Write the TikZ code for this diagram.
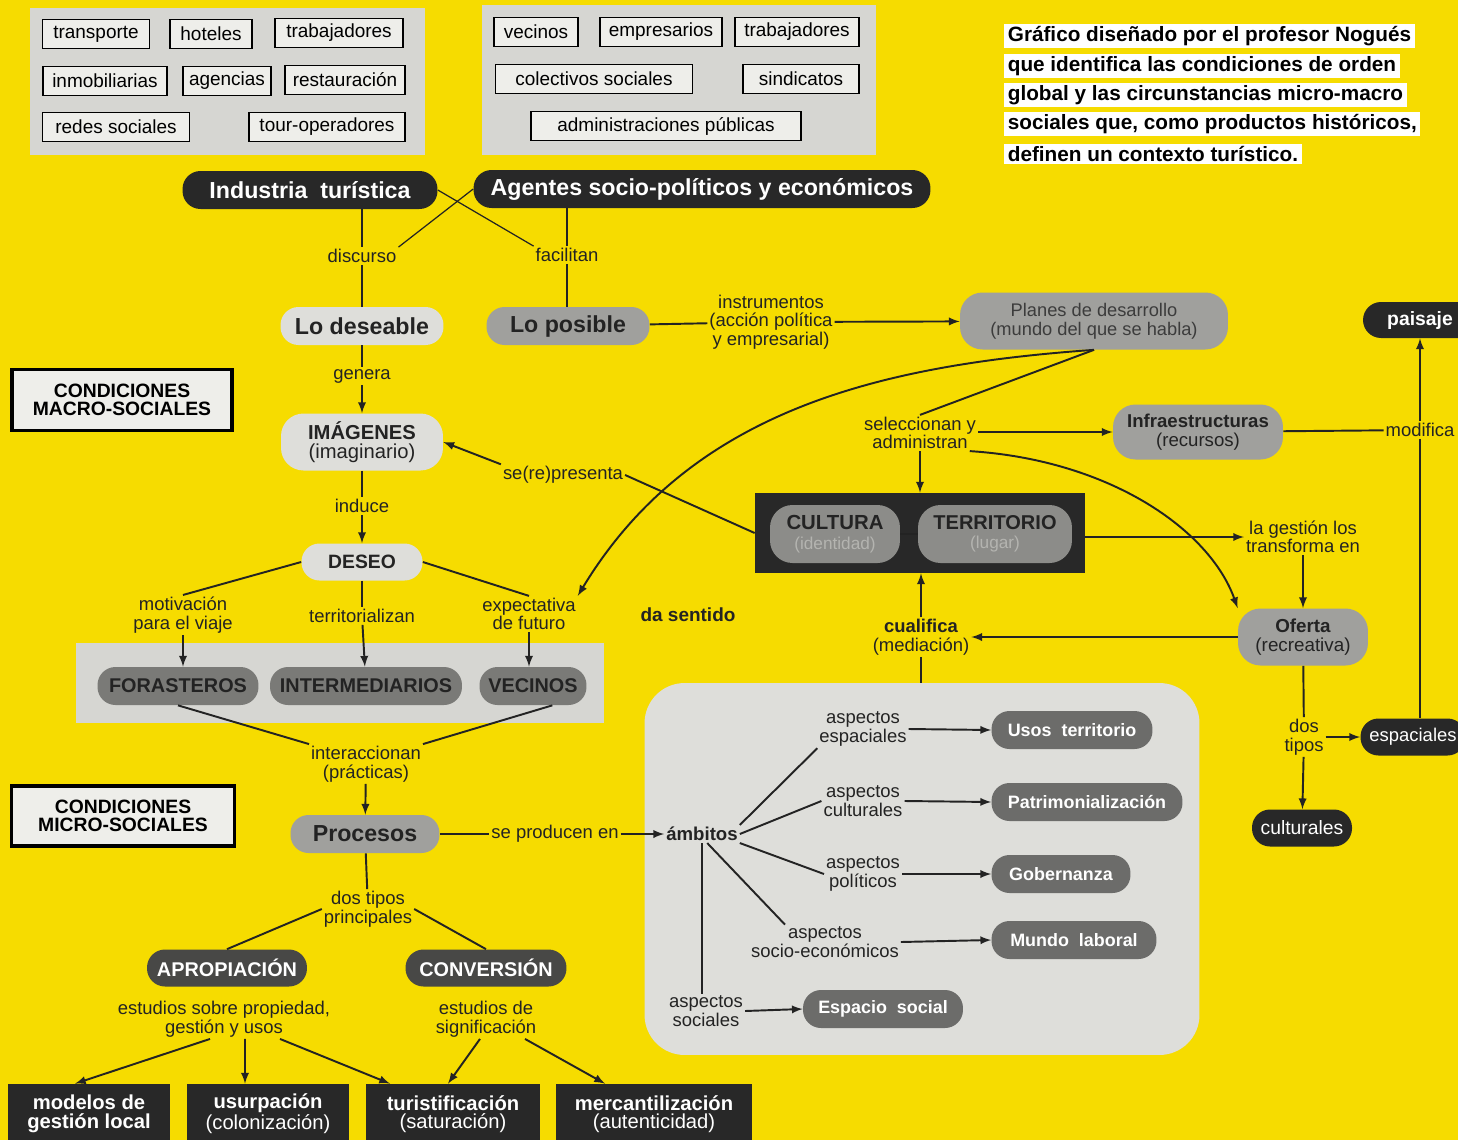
\documentclass[tikz,border=0pt]{standalone}
\usepackage{fontspec}
\setmainfont{Liberation Sans}
\usetikzlibrary{arrows,positioning,calc}

\definecolor{amarillo}{RGB}{246,220,0}
\definecolor{panelgris}{RGB}{214,214,210}
\definecolor{tagfondo}{RGB}{238,238,234}
\definecolor{claro}{RGB}{222,222,218}
\definecolor{medio}{RGB}{160,160,157}
\definecolor{actor}{RGB}{122,122,119}
\definecolor{nucleo}{RGB}{140,140,137}
\definecolor{ambito}{RGB}{108,108,106}
\definecolor{proceso}{RGB}{72,72,70}
\definecolor{oscuro}{RGB}{40,40,40}
\definecolor{tinta}{RGB}{35,35,35}
\definecolor{gristexto}{RGB}{60,60,60}
\definecolor{palido}{RGB}{180,180,176}

\begin{document}
\begin{tikzpicture}[x=0.02cm, y=-0.02cm, >=latex]
\tikzstyle{tag}=[draw, fill=tagfondo, line width=0.7pt, inner sep=0pt,
                 minimum height=0.58cm, font=\fontsize{10.8}{12}\selectfont]
\tikzstyle{lbl}=[inner sep=1pt, align=center, text=tinta,
                 font=\fontsize{10.5}{10.5}\selectfont]
\tikzstyle{linea}=[line width=1.1pt, draw=tinta]
\tikzstyle{fina}=[line width=0.7pt, draw=tinta]
\tikzstyle{pill}=[rectangle, rounded corners=0.36cm, inner sep=0pt,
                  minimum height=0.76cm, align=center]
\tikzstyle{pill2}=[pill, rounded corners=0.45cm, minimum height=1.14cm]
\tikzstyle{darkpill}=[pill, fill=oscuro, text=white,
                      font=\bfseries\fontsize{13.2}{15}\selectfont]
\tikzstyle{bigpill}=[pill, text=tinta, font=\bfseries\fontsize{13.2}{15}\selectfont]
\tikzstyle{actorpill}=[pill, fill=actor, text=tinta,
                       font=\bfseries\fontsize{11.3}{13}\selectfont]
\tikzstyle{ambpill}=[pill, fill=ambito, text=white,
                     font=\bfseries\fontsize{10.2}{12}\selectfont]
\tikzstyle{procpill}=[pill, minimum height=0.74cm, fill=proceso, text=white,
                      font=\bfseries\fontsize{11.3}{13}\selectfont]
\tikzstyle{endpill}=[pill, minimum height=0.74cm, fill=oscuro, text=white,
                     font=\fontsize{11}{13}\selectfont]
\tikzstyle{condbox}=[draw=black, line width=1.8pt, fill=tagfondo, align=center,
                     inner sep=0pt, font=\bfseries\fontsize{11}{10.2}\selectfont]
\tikzstyle{result}=[fill=oscuro, text=white, align=center, inner sep=0pt,
                    minimum height=1.2cm, font=\fontsize{11.5}{10.5}\selectfont]
\tikzstyle{nota}=[fill=white, anchor=west, inner xsep=2pt, inner ysep=1.5pt,
                  text=black, font=\bfseries\fontsize{11.8}{14}\selectfont]

\useasboundingbox (0,0) rectangle (1458,1140);
\clip (0,0) rectangle (1458,1140);
\fill[amarillo] (0,0) rectangle (1458,1140);
\fill[panelgris] (30,8) rectangle (425,155);
\fill[panelgris] (482,5) rectangle (876,155);
\fill[panelgris] (76,643) rectangle (604,723);

\node[tag, minimum width=2.14cm] (transp) at (96,34) {transporte};
\node[tag, minimum width=1.64cm] (hotel) at (211,34) {hoteles};
\node[tag, minimum width=2.56cm] (trab1) at (339,33) {trabajadores};
\node[tag, minimum width=2.48cm] (inmob) at (105,81) {inmobiliarias};
\node[tag, minimum width=1.76cm] (agenc) at (227,81) {agencias};
\node[tag, minimum width=2.4cm] (resta) at (345,80) {restauración};
\node[tag, minimum width=2.94cm] (redes) at (116,127) {redes sociales};
\node[tag, minimum width=3.12cm] (touro) at (327,127) {tour-operadores};

\node[tag, minimum width=1.68cm] (vecin) at (536,32) {vecinos};
\node[tag, minimum width=2.44cm] (empre) at (661,32) {empresarios};
\node[tag, minimum width=2.48cm] (trab2) at (797,32) {trabajadores};
\node[tag, minimum width=3.94cm] (colec) at (594,79) {colectivos sociales};
\node[tag, minimum width=2.32cm] (sindi) at (801,79) {sindicatos};
\node[tag, minimum width=5.4cm] (admin) at (666,126) {administraciones públicas};

\node[nota] (nota1) at (1004,36) {Gráfico diseñado por el profesor Nogués};
\node[nota] (nota2) at (1004,66) {que identifica las condiciones de orden};
\node[nota] (nota3) at (1004,95) {global y las circunstancias micro-macro};
\node[nota] (nota4) at (1004,124) {sociales que, como productos históricos,};
\node[nota] (nota5) at (1004,154) {definen un contexto turístico.};

\node[darkpill, minimum width=5.1cm] (indus) at (310,190) {Industria\ \ turística};
\node[darkpill, minimum width=9.14cm] (agent) at (702,189) {Agentes socio-políticos y económicos};
\node[lbl] (discur) at (362,256) {discurso};
\node[lbl] (facil) at (567,255) {facilitan};
\node[bigpill, fill=claro, minimum width=3.26cm] (deseable) at (362,326) {Lo deseable};
\node[bigpill, fill=medio, minimum width=3.26cm] (posible) at (568,326) {Lo posible};
\node[lbl] (instr) at (771,322) {instrumentos\\(acción política\\y empresarial)};
\node[pill2, fill=medio, minimum width=5.36cm, text=gristexto,
      font=\fontsize{10.4}{10.8}\selectfont] (planes) at (1094,321)
      {Planes de desarrollo\\(mundo del que se habla)};
\node[darkpill, minimum width=2.28cm, minimum height=0.72cm,
      font=\bfseries\fontsize{11}{13}\selectfont] (paisaje) at (1420,320) {paisaje};

\node[condbox, minimum width=4.4cm, minimum height=1.22cm] (macro) at (122,400)
      {CONDICIONES\\MACRO-SOCIALES};
\node[lbl] (genera) at (362,376) {genera};
\node[pill2, fill=claro, minimum width=3.24cm, text=tinta,
      font=\fontsize{11.5}{10.8}\selectfont] (imag) at (362,442)
      {\textbf{IMÁGENES}\\(imaginario)};
\node[lbl] (induce) at (362,506) {induce};
\node[bigpill, fill=claro, minimum width=2.42cm, minimum height=0.74cm,
      font=\bfseries\fontsize{11}{13}\selectfont] (deseo) at (362,562) {DESEO};
\node[lbl] (repres) at (563,475) {se(re)presenta};

\node[lbl] (selec) at (920,433) {seleccionan y\\administran};
\node[pill2, fill=medio, minimum width=3.4cm, minimum height=1.1cm, text=tinta,
      font=\fontsize{10.6}{10.8}\selectfont] (infra) at (1198,432)
      {\textbf{Infraestructuras}\\(recursos)};
\node[lbl] (modif) at (1420,430) {modifica};

\node[fill=oscuro, minimum width=6.6cm, minimum height=1.6cm, inner sep=0pt] (ctbox) at (920,533) {};
\node[pill2, fill=nucleo, minimum width=2.6cm, minimum height=1.16cm, text=tinta,
      font=\fontsize{9.8}{11}\selectfont] (cult) at (835,534)
      {{\bfseries\fontsize{11.6}{11}\selectfont CULTURA}\\\textcolor{palido}{(identidad)}};
\node[pill2, fill=nucleo, minimum width=3.08cm, minimum height=1.16cm, text=tinta,
      font=\fontsize{9.8}{11}\selectfont] (terr) at (995,534)
      {{\bfseries\fontsize{11.4}{11}\selectfont TERRITORIO}\\\textcolor{palido}{(lugar)}};
\node[lbl] (transf) at (1303,537) {la gestión los\\transforma en};
\node[pill2, fill=medio, minimum width=2.6cm, text=tinta,
      font=\fontsize{10.7}{10.8}\selectfont] (oferta) at (1303,637)
      {\textbf{Oferta}\\(recreativa)};
\node[lbl] (cualif) at (921,637) {\textbf{cualifica}\\(mediación)};
\node[lbl, font=\bfseries\fontsize{10.8}{12}\selectfont] (dasent) at (688,615) {da sentido};
\node[lbl] (dostipos) at (1304,737) {dos\\tipos};
\node[endpill, minimum width=2.1cm, font=\fontsize{10.5}{13}\selectfont] (espac) at (1413,737) {espaciales};
\node[endpill, minimum width=2cm] (cultur) at (1302,828) {culturales};

\node[lbl] (motiv) at (183,615) {motivación\\para el viaje};
\node[lbl] (territ) at (362,616) {territorializan};
\node[lbl] (expect) at (529,614) {expectativa\\de futuro};
\node[actorpill, minimum width=3.22cm] (foraster) at (178,686) {FORASTEROS};
\node[actorpill, minimum width=3.84cm] (interm) at (366,686) {INTERMEDIARIOS};
\node[actorpill, minimum width=2.14cm] (vecinos) at (533,686) {VECINOS};
\node[lbl] (interacc) at (366,764) {interaccionan\\(prácticas)};
\node[condbox, minimum width=4.46cm, minimum height=1.2cm] (micro) at (123,816)
      {CONDICIONES\\MICRO-SOCIALES};
\node[bigpill, fill=medio, minimum width=2.98cm] (procesos) at (365,834) {Procesos};
\node[lbl] (seprod) at (555,834) {se producen en};
\node[lbl] (dostp) at (368,909) {dos tipos\\principales};
\node[procpill, minimum width=3.2cm] (apro) at (227,968) {APROPIACIÓN};
\node[procpill, minimum width=3.22cm] (conv) at (486,968) {CONVERSIÓN};
\node[lbl] (estprop) at (224,1019) {estudios sobre propiedad,\\gestión y usos};
\node[lbl] (estsig) at (486,1019) {estudios de\\significación};
\node[result, minimum width=3.24cm, font=\bfseries\fontsize{11.5}{10.5}\selectfont] (modelos) at (89,1114)
      {modelos de\\gestión local};
\node[result, minimum width=3.26cm] (usurp) at (268,1114) {\textbf{usurpación}\\(colonización)};
\node[result, minimum width=3.48cm] (turist) at (453,1114) {\textbf{turistificación}\\(saturación)};
\node[result, minimum width=3.92cm] (mercan) at (654,1114) {\textbf{mercantilización}\\(autenticidad)};

\node[fill=claro, rounded corners=0.8cm, minimum width=11.1cm, minimum height=7.44cm] (ambbox) at (922,869) {};
\node[lbl, font=\bfseries\fontsize{10.6}{12}\selectfont] (ambitos) at (702,834) {ámbitos};
\node[lbl] (aesp) at (863,729) {aspectos\\espaciales};
\node[lbl] (acul) at (863,801) {aspectos\\culturales};
\node[lbl] (apol) at (863,874) {aspectos\\políticos};
\node[lbl] (asoc) at (825,942) {aspectos\\socio-económicos};
\node[lbl] (asocl) at (706,1011) {aspectos\\sociales};
\node[ambpill, minimum width=3.22cm] (usos) at (1072,730) {Usos\ \ territorio};
\node[ambpill, minimum width=3.82cm] (patri) at (1087,802) {Patrimonialización};
\node[ambpill, minimum width=2.78cm] (gober) at (1061,874) {Gobernanza};
\node[ambpill, minimum width=3.3cm] (mundo) at (1074,940) {Mundo\ \ laboral};
\node[ambpill, minimum width=3.2cm] (espsoc) at (883,1009) {Espacio\ \ social};

\draw[fina] (indus.east) -- (facil.north west);
\draw[fina] (agent.west) -- (discur.north east);
\draw[linea] (discur |- indus.south) -- (discur);
\draw[linea] (discur) -- (deseable);
\draw[linea] (facil |- agent.south) -- (facil);
\draw[linea] (facil) -- (facil |- posible.north);
\draw[linea] (posible) -- (instr);
\draw[linea, ->] (instr) -- (planes);
\draw[linea] (deseable) -- (genera);
\draw[linea, ->] (genera) -- (imag);
\draw[linea] (imag) -- (induce);
\draw[linea, ->] (induce) -- (deseo);
\draw[linea] (ctbox.west) -- (repres.east);
\draw[linea, ->] (repres.north west) -- (imag.east);
\draw[linea] (planes.south) -- (selec.north);
\draw[linea, ->] (planes.south) .. controls (880,365) and (690,410) .. (expect.north east);
\draw[linea, ->] (selec.east |- infra) -- (infra);
\draw[linea] (infra) -- (modif);
\draw[linea, ->] (modif) -- (paisaje);
\draw[linea] (modif) -- (modif |- espac.north);
\draw[linea, ->] (selec) -- (selec |- ctbox.north);
\draw[linea] (cult) -- (terr);
\draw[linea, ->] (ctbox.east |- transf) -- (transf);
\draw[linea, ->] (transf) -- (oferta);
\draw[linea, ->] (selec.-20) .. controls (1110,460) and (1210,530) .. (oferta.north west);
\draw[linea, ->] (oferta) -- (cualif);
\draw[linea, ->] (cualif) -- (cualif |- ctbox.south);
\draw[linea] (cualif) -- (cualif |- ambbox.north);
\draw[linea] (oferta) -- (dostipos);
\draw[linea, ->] (dostipos) -- (cultur);
\draw[linea, ->] (dostipos) -- (espac);
\draw[linea] (deseo.west) -- (motiv.north);
\draw[linea] (deseo) -- (territ);
\draw[linea] (deseo.east) -- (expect.north);
\draw[linea, ->] (motiv.south) -- (motiv.south |- foraster.north);
\draw[linea, ->] (territ) -- (interm);
\draw[linea, ->] (expect.south) -- (expect.south |- vecinos.north);
\draw[linea] (foraster.south) -- (interacc.north west);
\draw[linea] (vecinos.-45) -- (interacc.north east);
\draw[linea, ->] (interacc) -- (procesos);
\draw[linea] (procesos) -- (seprod);
\draw[linea, ->] (seprod) -- (ambitos);
\draw[linea] (procesos) -- (dostp);
\draw[linea] (dostp.west) -- (apro.north);
\draw[linea] (dostp.east) -- (conv.north);
\draw[linea, ->] ([xshift=-0.28cm]estprop.south) -- ([xshift=-0.28cm]modelos.north);
\draw[linea, ->] ([xshift=0.42cm]estprop.south) -- ([xshift=-0.46cm]usurp.north);
\draw[linea, ->] ([xshift=1.12cm]estprop.south) -- ([xshift=-1.26cm]turist.north);
\draw[linea, ->] ([xshift=-0.12cm]estsig.south) -- ([xshift=-0.1cm]turist.north);
\draw[linea, ->] ([xshift=0.78cm]estsig.south) -- ([xshift=-0.98cm]mercan.north);
\draw[linea] (ambitos.north east) -- (aesp.south west);
\draw[linea] (ambitos.east) -- (acul.west);
\draw[linea] (ambitos.south east) -- (apol.west);
\draw[linea] (ambitos.-60) -- ([xshift=-0.8cm]asoc.north);
\draw[linea] (ambitos.south) -- (ambitos.south |- asocl.north);
\draw[linea, ->] (aesp.east) -- (usos.west);
\draw[linea, ->] (acul.east) -- (patri.west);
\draw[linea, ->] (apol.east) -- (gober.west);
\draw[linea, ->] (asoc.east) -- (mundo.west);
\draw[linea, ->] (asocl.east) -- (espsoc.west);
\end{tikzpicture}
\end{document}
